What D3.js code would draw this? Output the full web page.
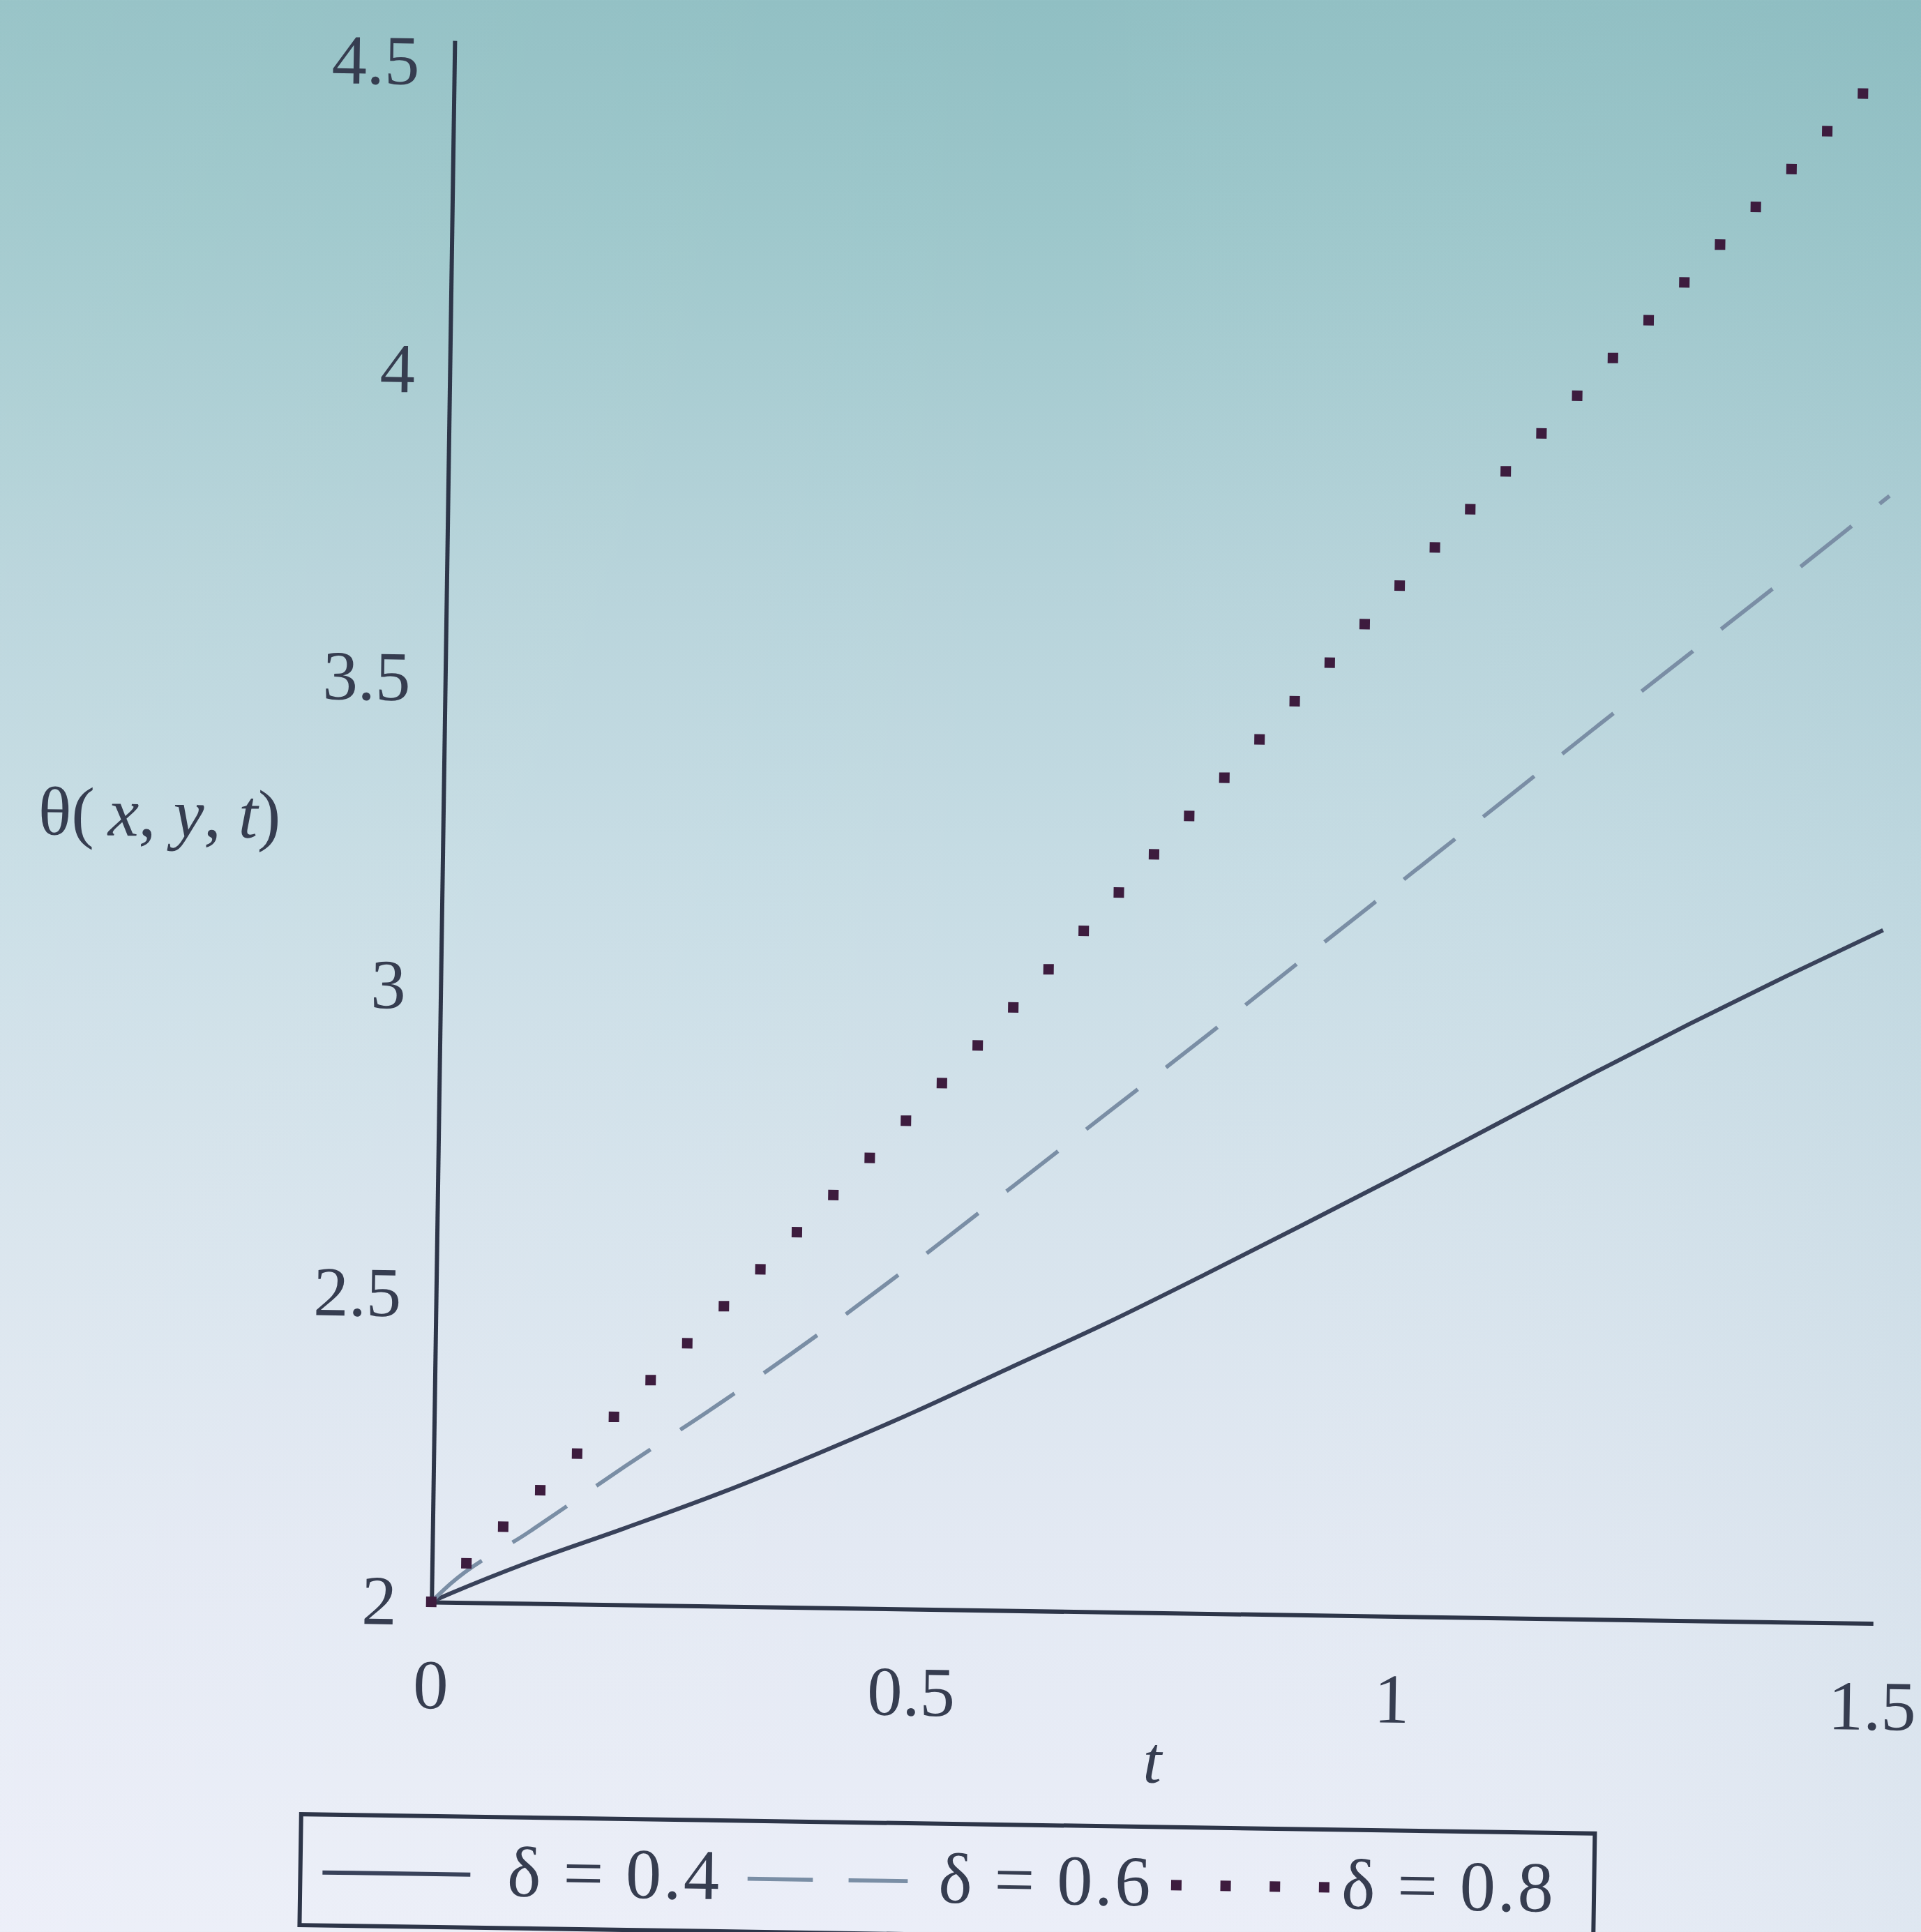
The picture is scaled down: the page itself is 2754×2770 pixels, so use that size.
<!DOCTYPE html>
<html>
<head>
<meta charset="utf-8">
<script src="https://cdnjs.cloudflare.com/ajax/libs/d3/7.8.5/d3.min.js"></script>
<style>
  html, body { margin: 0; padding: 0; background: #c9dde5; overflow: hidden; }
  svg { display: block; }
  .tick text { font-family: "Liberation Serif", "DejaVu Serif", serif; }
</style>
</head>
<body>
<svg id="chart"></svg>
<script>

// values
var tValues = [0, 0.02, 0.1, 0.2, 0.3, 0.4, 0.5, 0.6, 0.7, 0.8, 0.9, 1.0, 1.1, 1.2, 1.3, 1.4, 1.5];
var delta04 = [2.000, 2.014, 2.066, 2.124, 2.184, 2.250, 2.320, 2.395, 2.470, 2.550, 2.632, 2.715, 2.800, 2.885, 2.968, 3.048, 3.125];
var delta06 = [2.000, 2.030, 2.115, 2.225, 2.332, 2.445, 2.565, 2.690, 2.815, 2.940, 3.068, 3.195, 3.322, 3.450, 3.576, 3.702, 3.830];
var delta08 = [2.000, 2.036, 2.165, 2.325, 2.487, 2.650, 2.815, 2.985, 3.160, 3.335, 3.510, 3.687, 3.860, 4.030, 4.200, 4.370, 4.540];

var xTicks = [0, 0.5, 1, 1.5];
var yTicks = [2, 2.5, 3, 3.5, 4, 4.5];
var legendLabels = ["δ = 0.4", "δ = 0.6", "δ = 0.8"];

window.onload = function () {

	var W = 1559, H = 1568;
	var svg = d3.select("#chart")
	    .attr("width", 2754)
	    .attr("height", 2770)
	    .attr("viewBox", "0 0 " + W + " " + H);

	var defs = svg.append("defs");
	var bg = defs.append("linearGradient").attr("id", "bg")
	    .attr("x1", 0).attr("y1", 0).attr("x2", 0).attr("y2", 1);
	[["0%", "#90bfc3"], ["12%", "#9dc7cb"], ["30%", "#b6d3da"], ["45%", "#c6dce4"],
	 ["62%", "#d6e3ec"], ["80%", "#e3e9f3"], ["100%", "#ebeef8"]].forEach(function (s) {
		bg.append("stop").attr("offset", s[0]).attr("stop-color", s[1]);
	});
	var side = defs.append("linearGradient").attr("id", "side")
	    .attr("x1", 0).attr("y1", 0).attr("x2", 1).attr("y2", 0);
	side.append("stop").attr("offset", "0%").attr("stop-color", "#ffffff").attr("stop-opacity", 0.08);
	side.append("stop").attr("offset", "55%").attr("stop-color", "#ffffff").attr("stop-opacity", 0);
	side.append("stop").attr("offset", "100%").attr("stop-color", "#6fa6ae").attr("stop-opacity", 0.10);

	svg.append("rect").attr("width", W).attr("height", H).attr("fill", "url(#bg)");
	svg.append("rect").attr("width", W).attr("height", H).attr("fill", "url(#side)");

	var ox = 350, oy = 1300;
	// the photo is turned slightly clockwise
	var g = svg.append("g").attr("transform", "rotate(0.85," + ox + "," + oy + ")");

	var x = d3.scaleLinear().domain([0, 1.5]).range([ox, 1520]);
	var y = d3.scaleLinear().domain([2, 4.535]).range([oy, oy - 2.535 * 500]);

	var textColor = "#363d50";

	g.append("g")
	    .attr("transform", "translate(" + ox + ",0)")
	    .call(d3.axisLeft(y).tickValues(yTicks).tickSize(0).tickPadding(28)
	        .tickFormat(d3.format("")));
	g.append("g")
	    .attr("transform", "translate(0," + oy + ")")
	    .call(d3.axisBottom(x).tickValues(xTicks).tickSize(0).tickPadding(46)
	        .tickFormat(d3.format("")));

	g.selectAll(".domain").attr("stroke", "#2d3548").attr("stroke-width", 3.4);
	g.selectAll(".tick text").attr("fill", textColor).style("font-size", "57px");

	var line = d3.line()
	    .x(function (d) { return x(d[0]); })
	    .y(function (d) { return y(d[1]); })
	    .curve(d3.curveMonotoneX);

	function pairs(vals) { return tValues.map(function (t, i) { return [t, vals[i]]; }); }

	var styles = [
		{ data: delta04, color: "#39425a", width: 3.4, dash: null, legDash: null, cap: "butt" },
		{ data: delta06, color: "#7a8ea5", width: 3.2, dash: "53 29", legDash: "53 29", cap: "butt" },
		{ data: delta08, color: "#3d1c3e", width: 8.5, dash: "0 42.2", legDash: "0 40", cap: "square" }
	];

	styles.forEach(function (s) {
		g.append("path")
		    .datum(pairs(s.data))
		    .attr("d", line)
		    .attr("fill", "none")
		    .attr("stroke", s.color)
		    .attr("stroke-width", s.width)
		    .attr("stroke-linecap", s.cap)
		    .attr("stroke-dasharray", s.dash);
	});

	// axis titles
	var serif = "'Liberation Serif', 'DejaVu Serif', serif";
	var ylab = g.append("text")
	    .attr("x", 120).attr("y", 682)
	    .attr("text-anchor", "middle")
	    .attr("fill", textColor)
	    .style("font-family", serif).style("font-size", "56px");
	ylab.append("tspan").text("θ(\u2009");
	ylab.append("tspan").style("font-style", "italic").text("x");
	ylab.append("tspan").text(", ");
	ylab.append("tspan").style("font-style", "italic").text("y");
	ylab.append("tspan").text(", ");
	ylab.append("tspan").style("font-style", "italic").text("t");
	ylab.append("tspan").text(")");

	g.append("text")
	    .attr("x", 937).attr("y", 1438)
	    .attr("text-anchor", "middle")
	    .attr("fill", textColor)
	    .style("font-family", serif).style("font-size", "54px").style("font-style", "italic")
	    .text("t");

	// legend
	var leg = g.append("g");
	leg.append("rect")
	    .attr("x", 247).attr("y", 1474).attr("width", 1050).attr("height", 90)
	    .attr("fill", "none").attr("stroke", "#2d3548").attr("stroke-width", 3.4);

	var sampleX = [265, 610, 958];
	var sampleW = [120, 130, 121];
	var labelX = [415, 765, 1092];
	styles.forEach(function (s, i) {
		leg.append("line")
		    .attr("x1", sampleX[i]).attr("x2", sampleX[i] + sampleW[i])
		    .attr("y1", 1521).attr("y2", 1521)
		    .attr("stroke", s.color)
		    .attr("stroke-width", s.width)
		    .attr("stroke-linecap", s.cap)
		    .attr("stroke-dasharray", s.legDash);
		leg.append("text")
		    .attr("x", labelX[i]).attr("y", 1538)
		    .attr("fill", textColor)
		    .style("font-family", serif).style("font-size", "58px")
		    .attr("textLength", 172)
		    .text(legendLabels[i]);
	});
};
</script>
</body>
</html>
